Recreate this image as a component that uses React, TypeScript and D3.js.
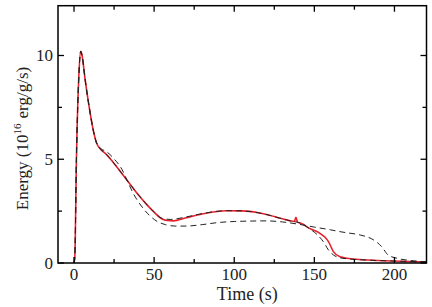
import React, { useRef, useEffect } from "react";
import * as d3 from "d3";

// red solid curve (time s, energy 1e16 erg/g/s)
const redT = [0, 0.5, 1.5, 3, 4.2, 5, 7, 9.5, 12, 14, 17, 20, 25, 30, 35, 40, 45, 50, 55, 58, 62, 70, 80, 95, 105, 115, 122, 128, 135, 137.5, 138.5, 139.5, 142, 147, 153.5, 156.5, 158.8, 161.9, 166, 176, 190, 205, 220];
const redE = [0, 0.3, 5, 9, 10.2, 10, 8.8, 7.5, 6.4, 5.8, 5.45, 5.25, 4.8, 4.3, 3.8, 3.3, 2.85, 2.45, 2.12, 2.05, 2.03, 2.18, 2.36, 2.52, 2.51, 2.42, 2.3, 2.17, 2.03, 2.0, 2.2, 1.97, 1.9, 1.67, 1.43, 1.25, 1.03, 0.55, 0.3, 0.18, 0.12, 0.08, 0.05];

// dashed curve close to the red one
const nearT = [0, 0.5, 1.5, 3, 4.2, 5, 7, 9.5, 12, 14, 17, 20, 25, 30, 35, 40, 45, 50, 55, 60, 70, 80, 95, 105, 115, 122, 128, 135, 142, 147, 152, 155.6, 158.8, 161.9, 166, 176, 190, 205, 220];
const nearE = [0, 0.3, 5, 9, 10.2, 10, 8.8, 7.5, 6.4, 5.8, 5.45, 5.25, 4.8, 4.3, 3.8, 3.3, 2.85, 2.45, 2.15, 2.1, 2.22, 2.38, 2.52, 2.51, 2.42, 2.3, 2.17, 2.03, 1.9, 1.65, 1.35, 1.03, 0.63, 0.39, 0.25, 0.17, 0.12, 0.08, 0.05];

// dashed curve that departs from the others
const farT = [0, 0.5, 1.5, 3, 4.2, 5, 7, 9.5, 12, 14, 17, 20, 25, 30, 33, 37, 42, 47, 52, 57, 63, 70, 80, 90, 100, 110, 120, 130, 140, 150, 160, 166, 170, 178.6, 187, 192, 196, 201.5, 210, 220];
const farE = [0, 0.3, 5, 9, 10.2, 10, 8.8, 7.5, 6.4, 5.8, 5.5, 5.38, 5.02, 4.5, 4.0, 3.35, 2.75, 2.3, 2.0, 1.85, 1.78, 1.78, 1.85, 1.95, 2.0, 2.02, 2.03, 1.98, 1.87, 1.73, 1.6, 1.51, 1.46, 1.35, 1.11, 0.79, 0.39, 0.23, 0.12, 0.06];

const xMajor = [0, 50, 100, 150, 200];
const xMinor = [25, 75, 125, 175];
const yMajor = [0, 5, 10];
const yMinor = [2.5, 7.5];

const W = 432;
const H = 307;
const L = 58, R = 426.5, T = 5.7, B = 263;

const App = () => {
  const svgRef = useRef<SVGSVGElement>(null);

  useEffect(() => {
    const svg = d3.select(svgRef.current);
    svg.selectAll("*").remove();

    const x = d3.scaleLinear().domain([-10, 220]).range([L, R]);
    const y = d3.scaleLinear().domain([0, 12.4]).range([B, T]);

    const font = "'Liberation Serif', 'Times New Roman', serif";

    const g = svg.append("g");
    const clipId = "plotclip";
    svg.append("defs").append("clipPath").attr("id", clipId)
      .append("rect").attr("x", L).attr("y", T).attr("width", R - L).attr("height", B - T);

    const line = d3.line<[number, number]>()
      .x((d) => x(d[0]))
      .y((d) => y(d[1]))
      .curve(d3.curveMonotoneX);

    const zip = (ts: number[], es: number[]) => ts.map((t, i) => [t, es[i]] as [number, number]);

    const curves = g.append("g").attr("clip-path", `url(#${clipId})`);
    curves.append("path")
      .attr("d", line(zip(redT, redE)))
      .attr("fill", "none")
      .attr("stroke", "#e8222c")
      .attr("stroke-width", 1.6);
    curves.append("path")
      .attr("d", line(zip(nearT, nearE)))
      .attr("fill", "none")
      .attr("stroke", "#222")
      .attr("stroke-width", 1)
      .attr("stroke-dasharray", "6,4");
    curves.append("path")
      .attr("d", line(zip(farT, farE)))
      .attr("fill", "none")
      .attr("stroke", "#222")
      .attr("stroke-width", 1)
      .attr("stroke-dasharray", "6,4");

    // frame
    g.append("rect")
      .attr("x", L).attr("y", T)
      .attr("width", R - L).attr("height", B - T)
      .attr("fill", "none").attr("stroke", "#000").attr("stroke-width", 1.5);

    // ticks, pointing in, on all four sides
    const tk = g.append("g").attr("stroke", "#000").attr("stroke-width", 1.3);
    const xt = (v: number, len: number) => {
      tk.append("line").attr("x1", x(v)).attr("x2", x(v)).attr("y1", B).attr("y2", B - len);
      tk.append("line").attr("x1", x(v)).attr("x2", x(v)).attr("y1", T).attr("y2", T + len);
    };
    const yt = (v: number, len: number) => {
      tk.append("line").attr("y1", y(v)).attr("y2", y(v)).attr("x1", L).attr("x2", L + len);
      tk.append("line").attr("y1", y(v)).attr("y2", y(v)).attr("x1", R).attr("x2", R - len);
    };
    xMajor.forEach((v) => xt(v, 6));
    xMinor.forEach((v) => xt(v, 4));
    yMajor.forEach((v) => yt(v, 6));
    yMinor.forEach((v) => yt(v, 4));

    g.append("g").selectAll("text").data(xMajor).enter().append("text")
      .attr("x", (d) => x(d)).attr("y", 280)
      .attr("text-anchor", "middle")
      .attr("font-family", font).attr("font-size", 17)
      .attr("fill", "#222")
      .text((d) => d);

    g.append("g").selectAll("text").data(yMajor).enter().append("text")
      .attr("x", 53).attr("y", (d) => y(d) + 5.5)
      .attr("text-anchor", "end")
      .attr("font-family", font).attr("font-size", 17)
      .attr("fill", "#222")
      .text((d) => d);

    g.append("text")
      .attr("x", (L + R) / 2 + 5).attr("y", 300)
      .attr("text-anchor", "middle")
      .attr("font-family", font).attr("font-size", 18)
      .attr("fill", "#222")
      .text("Time (s)");

    const yl = g.append("text")
      .attr("transform", `translate(28,142) rotate(-90)`)
      .attr("font-family", font).attr("font-size", 17)
      .attr("fill", "#222");
    yl.append("tspan").text("Energy (10");
    yl.append("tspan").attr("font-size", 11).attr("dy", -7).text("16");
    yl.append("tspan").attr("dy", 7).attr("dx", 5).text("erg/g/s)");
    // center the label on the axis by its measured length
    const len = (yl.node() as SVGTextElement).getComputedTextLength();
    yl.attr("transform", `translate(28,${141 + len / 2}) rotate(-90)`);
  }, []);

  return (
    <div>
      <svg
        ref={svgRef}
        width={W}
        height={H}
        style={{ position: "absolute", left: 0, top: 0, background: "#fff" }}
      ></svg>
    </div>
  );
};

export default App;
